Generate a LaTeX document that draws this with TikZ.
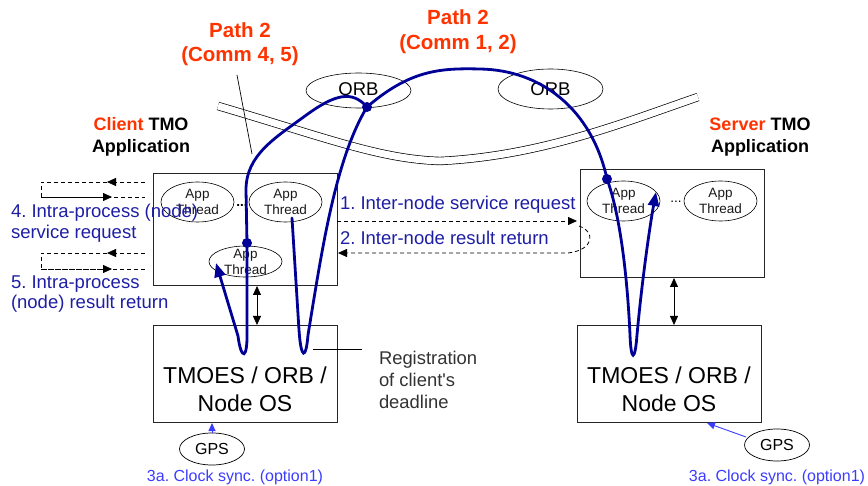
\documentclass[tikz,border=0pt]{standalone}
\usepackage{fontspec}
\setmainfont{Liberation Sans}
\usetikzlibrary{shapes.geometric,arrows.meta}
\newcommand\fsz[2]{\fontsize{#1}{#2}\selectfont}
\definecolor{orangered}{RGB}{255,51,0}
\definecolor{textblue}{RGB}{30,30,165}
\definecolor{pathblue}{RGB}{0,0,150}
\definecolor{lightblue}{RGB}{60,60,255}
\definecolor{regray}{RGB}{50,50,50}
\frenchspacing
\begin{document}
\begin{tikzpicture}[x=1pt,y=-1pt,
  every node/.style={inner sep=0pt, outer sep=0pt},
  box/.style={draw=black!85, line width=0.8pt, rectangle},
  thread/.style={draw=black, line width=0.6pt, ellipse, minimum width=73pt, minimum height=40pt},
  tt/.style={font=\fsz{13.5}{16}, align=center, text=black!90},
  orb/.style={draw=black, line width=0.6pt, ellipse, minimum width=105pt},
  gps/.style={draw=black, line width=0.7pt, ellipse, minimum width=65pt, minimum height=32pt, font=\fsz{16}{18}},
  bpath/.style={draw=pathblue, line width=2.8pt, line cap=round},
  btip/.style={-{Triangle[length=14pt,width=11pt]}},
  bdot/.style={circle, fill=pathblue, minimum size=10pt},
  dsh/.style={draw=black, line width=0.8pt, dash pattern=on 4pt off 3pt},
  dtip/.style={-{Triangle[length=9pt,width=8pt]}},
  btext/.style={text=textblue, font=\fsz{18.5}{20.5}, align=left},
  ptitle/.style={font=\bfseries\fsz{20.5}{24.5}, text=orangered, align=center},
  apptitle/.style={font=\bfseries\fsz{18}{22}, align=center},
  tmoes/.style={font=\fsz{23}{28}, align=center},
  clock/.style={font=\fsz{16}{18}, text=lightblue},
]
\useasboundingbox (0,0) rectangle (868,486);

% network (double line)
\draw[line width=0.7pt, double distance=7pt] (218,106) .. controls (330,139) and (380,159) .. (440,161) .. controls (540,156) and (620,124) .. (698,97);

% boxes
\node[box, minimum width=184pt, minimum height=112pt] (capp) at (245,229) {};
\node[box, minimum width=184pt, minimum height=97pt] (cos) at (245,373.5) {};
\node[box, minimum width=184pt, minimum height=108pt] (sapp) at (672,223) {};
\node[box, minimum width=184pt, minimum height=97pt] (sos) at (669,373.5) {};

\node[tmoes] (costxt) at (245,389) {TMOES / ORB /\\Node OS};
\node[tmoes] (sostxt) at (669,389) {TMOES / ORB /\\Node OS};

% threads
\node[thread] (ct1) at (197.5,202) {};
\node[thread] (ct2) at (285.5,202) {};
\node[thread, minimum height=31pt] (ct3) at (245.5,261.5) {};
\node[thread] (st1) at (623.5,201) {};
\node[thread] (st2) at (720.5,201) {};
\node[tt] at (ct1) {App\\Thread};
\node[tt] at (ct2) {App\\Thread};
\node[tt] at (245.5,262) {App\\Thread};
\node[tt] at (st1) {App\\Thread};
\node[tt] at (st2) {App\\Thread};
\node[font=\bfseries\fsz{13.5}{16}, anchor=base] (cdots) at (242,207) {...};
\node[font=\fsz{13.5}{16}, anchor=base] (sdots) at (676,203) {...};

% ORB
\node[orb, minimum height=35pt] (orb1) at (358.5,90.5) {};
\node[orb, minimum height=40pt] (orb2) at (550.5,89) {};
\node[font=\fsz{18.5}{20}] at (358.5,89.5) {ORB};
\node[font=\fsz{18.5}{20}] at (550.5,89) {ORB};

% titles
\node[ptitle] (p45) at (240,44) {Path 2\\(Comm 4, 5)};
\node[ptitle] (p12) at (458,31.5) {Path 2\\(Comm 1, 2)};
\node[apptitle] (ctitle) at (141,137) {{\color{orangered}Client} TMO\\Application};
\node[apptitle] (stitle) at (760,137) {{\color{orangered}Server} TMO\\Application};

% leader lines
\coordinate (l45a) at (237,75);
\coordinate (l45b) at (252,154);
\draw[line width=0.7pt] (l45a) -- (l45b);
\coordinate (rega) at (313,349);
\coordinate (regb) at (362,349);
\draw[line width=0.7pt] (rega) -- (regb);
\node[anchor=west, font=\fsz{18.4}{22}, text=regray, align=left] (regtxt) at (379,380) {Registration\\of client\textquotesingle s\\deadline};

% inter-node dashed
\coordinate (rq1) at (337,221);
\coordinate (rq2) at (577,221);
\draw[dsh, dtip] (rq1) -- (rq2);
\coordinate (rt1) at (579,226);
\coordinate (rt2) at (568,253);
\coordinate (rt3) at (338,253);
\draw[dsh, dtip] (rt1) .. controls (596,232) and (594,250) .. (rt2) -- (rt3);
\node[btext, anchor=west] (l1) at (340,205) {1. Inter-node service request};
\node[btext, anchor=west] (l2) at (340,238) {2. Inter-node result return};

% intra-process dashed
\coordinate (a1) at (145,182); \coordinate (a1t) at (107,182);
\coordinate (a1c) at (41,182); \coordinate (a1d) at (41,197);
\coordinate (a1u) at (112,197); \coordinate (a1e) at (145,197);
\draw[dsh, dtip] (a1) -- (a1t);
\draw[dsh] (a1t) -- (a1c) -- (a1d) -- (a1e);
\draw[dsh, dtip] (a1d) -- (a1u);
\coordinate (a2) at (145,253); \coordinate (a2t) at (107,253);
\coordinate (a2c) at (41,253); \coordinate (a2d) at (41,269);
\coordinate (a2u) at (112,269); \coordinate (a2e) at (145,269);
\draw[dsh, dtip] (a2) -- (a2t);
\draw[dsh] (a2t) -- (a2c) -- (a2d) -- (a2e);
\draw[dsh, dtip] (a2d) -- (a2u);
\node[btext, anchor=west] (l4) at (11,223) {4. Intra-process (node)\\service request};
\node[btext, anchor=west] (l5) at (11,294) {5. Intra-process\\(node) result return};

% double arrows app <-> OS
\coordinate (cda) at (257,286); \coordinate (cdb) at (257,325);
\draw[line width=0.8pt, {Triangle[length=9pt,width=8pt]}-{Triangle[length=9pt,width=8pt]}] (cda) -- (cdb);
\coordinate (sda) at (674,278); \coordinate (sdb) at (674,325);
\draw[line width=0.8pt, {Triangle[length=9pt,width=8pt]}-{Triangle[length=9pt,width=8pt]}] (sda) -- (sdb);

% GPS
\node[gps] (cgps) at (212,449) {GPS};
\node[gps] (sgps) at (777,445) {GPS};
\coordinate (cgt) at (212,423);
\coordinate (sgs) at (746,437);
\coordinate (sgt) at (707,423);
\draw[lightblue, line width=0.9pt, -{Triangle[length=8pt,width=7pt]}] (cgps.north) -- (cgt);
\draw[lightblue, line width=0.9pt, -{Triangle[length=8pt,width=7pt]}] (sgs) -- (sgt);
\node[clock] (cclk) at (235,477) {3a. Clock sync. (option1)};
\node[clock] (sclk) at (777,477) {3a. Clock sync. (option1)};

% blue paths
\coordinate (D1) at (247,243);
\coordinate (D2) at (367,107);
\coordinate (D3) at (607,179);
\coordinate (A5tip) at (216,263);
\coordinate (CT2s) at (292,218);
\coordinate (S1tip) at (656,192);
\draw[bpath] (D2) .. controls (352,90) and (335,94) .. (305,116) .. controls (275,138) and (246,155) .. (246,190) -- (D1);
\draw[bpath, btip] (D1) -- (247,328) .. controls (248,362) and (241,360) .. (238,336) -- (A5tip);
\draw[bpath, btip] (CT2s) -- (299,330) .. controls (301,360) and (306,360) .. (308,335) .. controls (322,250) and (335,160) .. (D2) .. controls (410,70) and (440,68) .. (480,69) .. controls (542,70) and (592,110) .. (D3) .. controls (622,220) and (628,290) .. (630,335) .. controls (631,362) and (635,362) .. (637,335) .. controls (642,280) and (650,225) .. (S1tip);
\node[bdot] (d1) at (D1) {};
\node[bdot] (d2) at (D2) {};
\node[bdot] (d3) at (D3) {};
\end{tikzpicture}
\end{document}
